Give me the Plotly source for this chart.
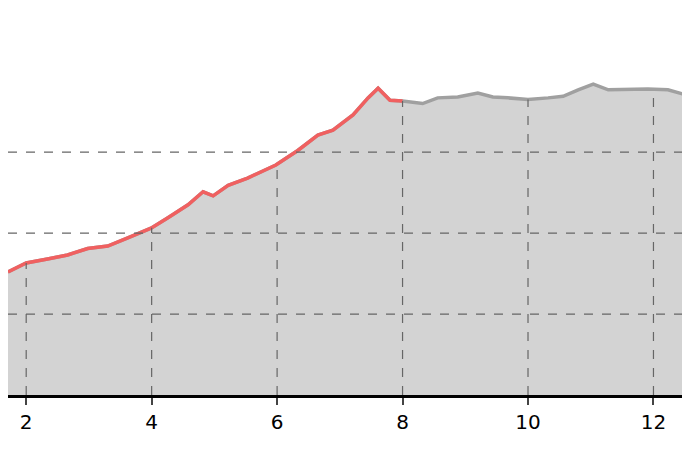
import plotly.graph_objects as go
import numpy as np

x = [1.71,2.0,2.34,2.66,2.98,3.30,3.62,3.99,4.26,4.58,4.82,4.98,5.22,5.53,5.98,6.33,6.65,6.89,7.21,7.45,7.61,7.80,8.0,
     8.32,8.56,8.88,9.20,9.44,9.68,10.0,10.32,10.56,10.80,11.04,11.28,11.60,11.91,12.23,12.55,12.71]
y = [1.52,1.63,1.68,1.73,1.81,1.84,1.94,2.06,2.19,2.35,2.51,2.46,2.59,2.68,2.84,3.02,3.21,3.27,3.46,3.67,3.79,3.64,3.63,
     3.60,3.67,3.68,3.73,3.68,3.67,3.65,3.67,3.69,3.77,3.84,3.77,3.78,3.78,3.77,3.70,3.69]
split = 8.0
xticks = [2,4,6,8,10,12]
ygrid = [1,2,3]

xr = [a for a in x if a <= split]
yr = y[:len(xr)]

fig = go.Figure()
fig.add_trace(go.Scatter(x=x, y=y, mode="lines", fill="tozeroy", fillcolor="#d3d3d3",
                         line=dict(color="#a0a0a0", width=3.5)))
fig.add_trace(go.Scatter(x=xr, y=yr, mode="lines", line=dict(color="#f06060", width=3.5)))

dash = dict(color="#666", width=1.2, dash="dash")
for t in xticks:
    top = float(np.interp(t, x, y))
    fig.add_shape(type="line", x0=t, x1=t, y0=0, y1=top, xref="x", yref="y", line=dash, layer="above")
for g in ygrid:
    fig.add_shape(type="line", x0=0, x1=1, y0=g, y1=g, xref="paper", yref="y", line=dash, layer="above")

fig.update_layout(width=690, height=460, margin=dict(l=0, r=0, t=0, b=73),
                  plot_bgcolor="white", paper_bgcolor="white", showlegend=False,
                  font=dict(family="DejaVu Sans", size=20, color="black"))
fig.update_xaxes(range=[1.71, 12.71], tickvals=xticks, showgrid=False, showline=True,
                 linecolor="black", linewidth=2.5, ticks="outside", ticklen=7, tickwidth=1.5,
                 zeroline=False)
fig.update_yaxes(range=[0, 4.78], showticklabels=False, showgrid=False, zeroline=False)
fig.write_html("out.html")
